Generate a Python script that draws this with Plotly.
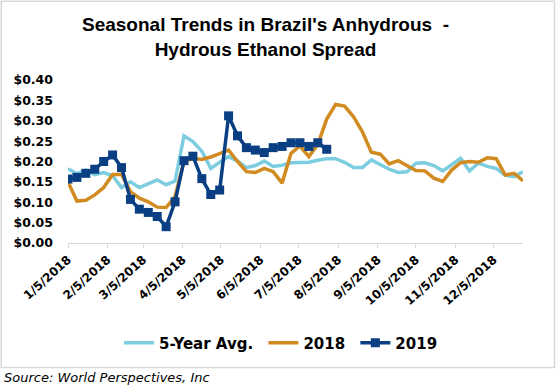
import pandas as pd
import plotly.graph_objects as go

# Weekly observation dates (plotted on the 2018 calendar)
weeks = pd.date_range("2018-01-05", periods=52, freq="7D")

five_year_avg = [0.182, 0.170, 0.179, 0.168, 0.173, 0.165, 0.136, 0.150, 0.136, 0.145,
                 0.155, 0.143, 0.152, 0.263, 0.249, 0.225, 0.183, 0.198, 0.212, 0.201,
                 0.185, 0.190, 0.201, 0.188, 0.191, 0.197, 0.197, 0.198, 0.203, 0.207,
                 0.207, 0.198, 0.185, 0.185, 0.204, 0.192, 0.181, 0.173, 0.175, 0.196,
                 0.197, 0.190, 0.177, 0.192, 0.208, 0.177, 0.196, 0.188, 0.183, 0.166,
                 0.163, 0.175]

y2018 = [0.150, 0.103, 0.105, 0.118, 0.136, 0.168, 0.168, 0.126, 0.110, 0.101,
         0.088, 0.087, 0.114, 0.200, 0.208, 0.205, 0.211, 0.219, 0.228, 0.200,
         0.175, 0.173, 0.183, 0.175, 0.147, 0.220, 0.238, 0.212, 0.242, 0.304,
         0.340, 0.336, 0.310, 0.273, 0.223, 0.218, 0.194, 0.202, 0.190, 0.178,
         0.177, 0.159, 0.151, 0.179, 0.197, 0.200, 0.198, 0.209, 0.207, 0.167,
         0.171, 0.153]

y2019 = [0.157, 0.161, 0.171, 0.181, 0.200, 0.216, 0.185, 0.107, 0.083, 0.075,
         0.065, 0.040, 0.101, 0.202, 0.213, 0.158, 0.119, 0.130, 0.312, 0.263,
         0.234, 0.228, 0.222, 0.234, 0.237, 0.246, 0.246, 0.237, 0.246, 0.230]

tick_dates = ["2018-01-05", "2018-02-05", "2018-03-05", "2018-04-05", "2018-05-05", "2018-06-05",
              "2018-07-05", "2018-08-05", "2018-09-05", "2018-10-05", "2018-11-05", "2018-12-05"]
tick_labels = ["1/5/2018", "2/5/2018", "3/5/2018", "4/5/2018", "5/5/2018", "6/5/2018",
               "7/5/2018", "8/5/2018", "9/5/2018", "10/5/2018", "11/5/2018", "12/5/2018"]
y_ticks = [0.00, 0.05, 0.10, 0.15, 0.20, 0.25, 0.30, 0.35, 0.40]

C_AVG = "#7DCDE0"
C_2018 = "#D18B20"
C_2019 = "#0B3F84"

W, H = 556, 391
L, R, T, B = 68, 33, 80, 148
pw, ph = W - L - R, H - T - B


def px_x(p):
    return (p - L) / pw


def px_y(p):
    return (H - B - p) / ph


NB = "\u00a0"

fig = go.Figure()
fig.add_trace(go.Scatter(x=weeks, y=five_year_avg, name="5-Year Avg." + NB, mode="lines",
                         line=dict(color=C_AVG, width=3.5)))
fig.add_trace(go.Scatter(x=weeks, y=y2018, name="2018" + NB, mode="lines",
                         line=dict(color=C_2018, width=3.5)))
fig.add_trace(go.Scatter(x=weeks[:len(y2019)], y=y2019, name="2019", mode="lines+markers",
                         line=dict(color=C_2019, width=3.5),
                         marker=dict(symbol="square", size=9, color=C_2019)))

fig.update_layout(
    width=W, height=H,
    margin=dict(l=L, r=R, t=T, b=B, pad=0, autoexpand=False),
    paper_bgcolor="white", plot_bgcolor="white",
    title=dict(text="Seasonal Trends in Brazil's Anhydrous  -<br>Hydrous Ethanol Spread",
               x=265.5 / W, xanchor="center", xref="container",
               y=1 - 31 / H, yanchor="middle", yref="container",
               font=dict(family="Liberation Sans, Arial", size=19, color="black", weight="bold")),
    showlegend=True,
    legend=dict(orientation="h", x=px_x(119), xanchor="left", y=px_y(343), yanchor="middle",
                font=dict(family="DejaVu Sans", size=15, color="black", weight="bold"),
                bgcolor="rgba(0,0,0,0)", traceorder="normal"),
    xaxis=dict(type="date", range=[weeks[0], weeks[-1]], automargin=False,
               tickvals=tick_dates, ticktext=tick_labels, tickangle=-42,
               showgrid=False, zeroline=False,
               showline=True, linecolor="#D9D9D9", linewidth=1,
               ticks="outside", ticklen=4, tickcolor="#D9D9D9", tickwidth=1,
               tickfont=dict(family="DejaVu Sans", size=12, color="black", weight="bold")),
    yaxis=dict(range=[0, 0.40], tickvals=y_ticks, tickformat="$.2f", automargin=False,
               showgrid=False, zeroline=False, showline=False, ticks="",
               ticklabelstandoff=14,
               tickfont=dict(family="DejaVu Sans", size=12.5, color="black", weight="bold")),
    annotations=[dict(text="<i>Source: World Perspectives, Inc</i>", xref="paper", yref="paper",
                      x=px_x(2), y=px_y(377.7), xanchor="left", yanchor="middle", showarrow=False,
                      font=dict(family="DejaVu Sans", size=13, color="black"))],
    shapes=[dict(type="rect", xref="paper", yref="paper",
                 x0=px_x(1.2), x1=px_x(554.5), y0=px_y(367.5), y1=px_y(1.2),
                 line=dict(color="#D9D9D9", width=1.5), layer="below")],
)

fig.write_html("out.html", config={"displayModeBar": False},
               post_script="document.body.style.margin='0px';document.body.style.overflow='hidden';")
